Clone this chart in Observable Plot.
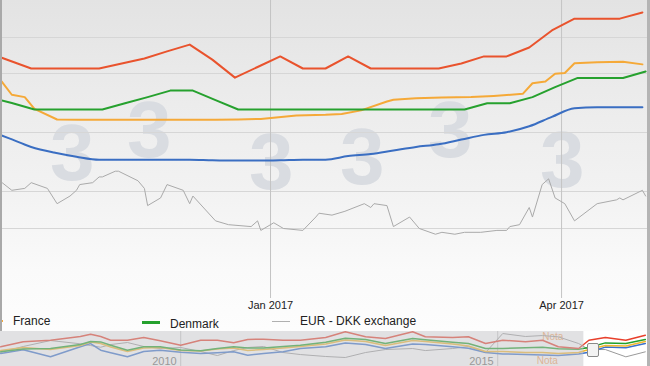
<!DOCTYPE html>
<html>
<head>
<meta charset="utf-8">
<script src="https://cdn.jsdelivr.net/npm/d3@7"></script>
<script src="https://cdn.jsdelivr.net/npm/@observablehq/plot@0.6"></script>
<style>
  html, body { margin: 0; padding: 0; background: #fff; }
  #wrap { position: relative; width: 650px; height: 366px; overflow: hidden; background: #fff;
          font-family: "Liberation Sans", Arial, sans-serif; }
  #bg { position: absolute; left: 0; top: 0; width: 650px; height: 331px;
        background: linear-gradient(to bottom, #e3e3e3 0px, #ebebeb 90px, #f2f2f2 190px, #fafafa 270px, #fdfdfd 331px); }
  .wm { position: absolute; font: bold 80px "Liberation Sans", Arial, sans-serif; line-height: 80px; color: #d9dce1; }
  #main { position: absolute; left: 0; top: 0; }
  #nav { position: absolute; left: 0; top: 331px; }
  .leg { position: absolute; font-size: 12px; line-height: 14px; color: #222; white-space: nowrap; }
  .sym { position: absolute; height: 2px; }
  #lbar { position: absolute; left: 0; top: 0; width: 2px; height: 331px; background: #a9a9a9; }
  #rbar { position: absolute; left: 647px; top: 0; width: 3px; height: 366px; background: #b4b4b4; }
  #handle { position: absolute; left: 587px; top: 343px; width: 10px; height: 12px; border: 1px solid #8a8a8a;
            border-radius: 2px; background: #f3f3f3; }
</style>
</head>
<body>
<div id="wrap">
  <div id="bg"></div>
  <div class="wm" style="left:50px;top:113px">3</div>
  <div class="wm" style="left:127px;top:90px">3</div>
  <div class="wm" style="left:249px;top:122px">3</div>
  <div class="wm" style="left:340px;top:117px">3</div>
  <div class="wm" style="left:428px;top:90px">3</div>
  <div class="wm" style="left:540px;top:120px">3</div>
  <div id="main"></div>
  <div id="nav"></div>
  <div class="sym" style="left:-12px;top:320px;width:15px;background:#f5a938"></div>
  <div class="leg" style="left:13px;top:314px">France</div>
  <div class="sym" style="left:142px;top:321px;width:18px;height:3px;background:#26a12e"></div>
  <div class="leg" style="left:170px;top:317px">Denmark</div>
  <div class="sym" style="left:272px;top:321px;width:18px;height:1px;background:#b0b0b0"></div>
  <div class="leg" style="left:300px;top:314px">EUR - DKK exchange</div>
  <div id="handle"></div>
  <div id="lbar"></div>
  <div id="rbar"></div>
</div>
<script>
// ---------- main chart data (prices in EUR/100 kg, exchange rate EUR-DKK) ----------
const weeksWed = ["2016-10-05","2016-10-12","2016-10-19","2016-10-26","2016-11-02","2016-11-09","2016-11-16","2016-11-23","2016-11-30","2016-12-07","2016-12-14","2016-12-21","2016-12-28","2017-01-04","2017-01-11","2017-01-18","2017-01-25","2017-02-01","2017-02-08","2017-02-15","2017-02-22","2017-03-01","2017-03-08","2017-03-15","2017-03-22","2017-03-29","2017-04-05","2017-04-12","2017-04-19","2017-04-26"];
// series whose legend entries are cut off at the left edge
const seriesRed  = [167.3,164.5,161.7,161.7,161.7,161.7,163.4,165.1,167.5,169.8,164.7,158.6,162.2,165.8,161.7,161.7,165.8,161.7,161.7,161.7,161.7,163.4,165.8,165.8,168.8,174.6,178.6,178.6,178.6,180.7];
const seriesBlue = [141.0,138.1,135.1,133.2,131.8,130.8,130.8,130.8,130.8,130.8,130.6,130.5,130.5,130.6,130.8,130.8,132.0,132.7,133.9,135.1,136.0,137.6,139.2,140.1,142.1,145.3,148.2,148.6,148.6,148.6];

const weeksThu = ["2016-10-06","2016-10-13","2016-10-20","2016-10-27","2016-11-03","2016-11-10","2016-11-17","2016-11-24","2016-12-01","2016-12-08","2016-12-15","2016-12-22","2016-12-29","2017-01-05","2017-01-12","2017-01-19","2017-01-26","2017-02-02","2017-02-09","2017-02-16","2017-02-23","2017-03-02","2017-03-09","2017-03-16","2017-03-23","2017-03-30","2017-04-06","2017-04-13","2017-04-20","2017-04-27"];
const denmark = [152.0,150.0,147.8,147.8,147.8,147.8,149.9,152.0,154.2,154.2,151.0,147.8,147.8,147.8,147.8,147.8,147.8,147.8,147.8,147.8,147.8,147.8,149.9,149.9,152.0,155.4,158.5,158.5,158.5,160.7];

const franceDates = ["2016-10-06","2016-10-10","2016-10-13","2016-10-17","2016-10-20","2016-10-27","2016-11-03","2016-11-10","2016-11-17","2016-11-24","2016-12-01","2016-12-08","2016-12-15","2016-12-22","2016-12-29","2017-01-09","2017-01-18","2017-01-23","2017-01-29","2017-02-06","2017-02-08","2017-02-15","2017-02-23","2017-03-04","2017-03-11","2017-03-20","2017-03-23","2017-03-27","2017-03-30","2017-04-02","2017-04-05","2017-04-12","2017-04-20","2017-04-26"];
const france = [161.5,157.1,152.8,152.0,148.0,144.4,144.3,144.3,144.3,144.3,144.3,144.3,144.3,144.4,144.6,145.8,146.0,146.3,147.5,150.5,151.1,151.6,151.9,152.0,152.4,153.1,156.7,157.3,159.9,160.2,163.5,163.8,164.0,163.1];

const fxDates = ["2016-10-07","2016-10-10","2016-10-13","2016-10-17","2016-10-19","2016-10-24","2016-10-27","2016-10-31","2016-11-02","2016-11-03","2016-11-07","2016-11-09","2016-11-10","2016-11-14","2016-11-15","2016-11-21","2016-11-23","2016-11-24","2016-11-28","2016-11-30","2016-12-05","2016-12-07","2016-12-08","2016-12-15","2016-12-19","2016-12-26","2016-12-28","2016-12-29","2017-01-02","2017-01-05","2017-01-11","2017-01-15","2017-01-16","2017-01-20","2017-01-24","2017-01-30","2017-02-01","2017-02-02","2017-02-06","2017-02-08","2017-02-13","2017-02-16","2017-02-21","2017-02-23","2017-02-27","2017-03-02","2017-03-07","2017-03-12","2017-03-15","2017-03-16","2017-03-19","2017-03-22","2017-03-23","2017-03-26","2017-03-28","2017-03-30","2017-04-02","2017-04-05","2017-04-12","2017-04-18","2017-04-19","2017-04-20","2017-04-26","2017-04-27"];
const eurDkk = [7.4327,7.4324,7.4320,7.4321,7.4324,7.4321,7.4313,7.4317,7.4320,7.4323,7.4324,7.4327,7.4327,7.4330,7.4330,7.4325,7.4321,7.4312,7.4316,7.4323,7.4320,7.4313,7.4317,7.4304,7.4302,7.4301,7.4304,7.4299,7.4303,7.4300,7.4299,7.4306,7.4308,7.4307,7.4309,7.4313,7.4311,7.4313,7.4312,7.4301,7.4306,7.4300,7.4297,7.4298,7.4297,7.4298,7.4298,7.4299,7.4299,7.4301,7.4302,7.4311,7.4306,7.4323,7.4326,7.4316,7.4313,7.4304,7.4313,7.4315,7.4316,7.4315,7.4320,7.4317];

const mainXDomain = ["2016-10-09T12:00:00Z","2017-04-28T12:00:00Z"];
const mainYDomain = [83.73, 184.75];
const xTickDates = ["2017-01-01","2017-04-01"];
const priceGrid = [160, 140, 120];
const rateGrid = [7.430, 7.440];
const rateAxis = [7.430, 7.440];         // secondary axis value range
const rateAxisPrice = [107.46, 172.2];   // where that range sits on the price axis

// ---------- navigator data ----------
const navDates = ["2007-03-01","2007-07-09","2007-12-13","2008-06-02","2008-07-31","2008-09-27","2008-11-24","2009-02-28","2009-06-02","2009-09-05","2010-01-01","2010-04-26","2010-07-31","2010-11-02","2011-01-22","2011-04-23","2011-08-14","2011-11-21","2012-04-15","2012-08-06","2012-12-01","2013-03-25","2013-08-29","2013-11-10","2014-04-16","2014-07-16","2014-10-23","2015-01-30","2015-06-10","2015-09-16","2015-12-16","2016-04-11","2016-06-09","2016-09-12","2017-01-08","2017-04-30"];
const navRed    = [149.3,163.0,167.3,177.4,183.7,177.4,167.3,167.3,174.7,165.7,153.7,167.3,167.3,160.2,169.3,170.1,167.3,167.3,174.7,190.3,176.6,172.0,190.3,176.6,174.7,176.6,158.3,167.3,163.0,167.3,149.3,144.7,167.3,174.7,167.3,181.0];
const navGreen  = [135.6,143.3,144.7,155.6,163.8,162.7,153.7,140.0,149.3,149.3,140.3,138.4,144.7,149.3,146.0,146.3,150.4,153.7,161.6,172.8,169.5,158.3,172.0,168.7,161.9,158.3,144.7,144.7,146.8,147.9,143.8,142.8,147.4,160.0,158.3,169.3];
const navFrance = [139.2,147.4,141.9,152.9,162.4,158.3,148.8,136.5,146.0,147.4,139.2,137.8,143.3,146.0,139.2,141.9,146.0,150.1,157.0,167.9,163.8,152.9,166.5,163.8,157.0,151.5,136.5,136.5,133.7,133.7,131.0,133.7,141.9,152.9,151.5,163.8];
const navBlue   = [131.0,141.4,122.0,149.3,158.3,140.0,133.2,122.0,136.5,140.0,134.3,131.0,132.9,135.6,126.4,131.0,135.6,144.7,149.3,159.4,155.6,144.7,157.0,155.3,149.3,145.5,133.5,129.9,128.3,126.9,125.5,129.6,134.3,148.5,146.6,158.3];
const navRate   = [7.4393,7.4478,7.4566,7.4518,7.4492,7.4467,7.4507,7.4537,7.4478,7.4448,7.4463,7.4404,7.4344,7.4418,7.4463,7.4478,7.4389,7.4359,7.4330,7.4315,7.4389,7.4433,7.4448,7.4418,7.4448,7.4478,7.4389,7.4670,7.4626,7.4640,7.4621,7.4522,7.4433,7.4433,7.4325,7.4399];
const navXDomain = ["2007-02-28","2017-05-30"];
const navYDomain = [95.5, 191.1];
const navRateAxis = [7.43, 7.47];
const navRateAxisPrice = [117.3, 191.1];
const navYears = ["2010-01-01","2015-01-01"];
const navMask = ["2007-02-28","2016-05-11"];
const navNotesTop = [{date: "2015-11-14", label: "Nota"}];
const navNotesBottom = [{date: "2015-10-14", label: "Nota"}];

// ---------- build ----------
const parse = d3.utcParse("%Y-%m-%d");
const rows = (dates, vals) => dates.map((d, i) => ({date: parse(d), value: vals[i]}));
const rateToPrice = d3.scaleLinear(rateAxis, rateAxisPrice);
const navRateToPrice = d3.scaleLinear(navRateAxis, navRateAxisPrice);
const font = "font-family: 'Liberation Sans', Arial, sans-serif;";

const main = Plot.plot({
  width: 650, height: 316,
  marginTop: 0, marginRight: 0, marginBottom: 18, marginLeft: 0,
  style: "background: transparent; " + font + " font-size: 11px; color: #222;",
  x: {type: "utc", domain: mainXDomain.map(d => new Date(d)), ticks: xTickDates.map(parse),
      tickFormat: d3.utcFormat("%b %Y"), tickSize: 0, tickPadding: 3, label: null},
  y: {domain: mainYDomain, axis: null},
  marks: [
    Plot.ruleY(priceGrid, {stroke: "#d6d6d6", strokeOpacity: 1}),
    Plot.ruleY(rateGrid, {y: d => rateToPrice(d), stroke: "#d6d6d6", strokeOpacity: 1}),
    Plot.ruleX(xTickDates.map(parse), {stroke: "#c4c4c4", strokeOpacity: 1}),
    Plot.line(rows(weeksWed, seriesRed), {x: "date", y: "value", stroke: "#e9532d", strokeWidth: 2, clip: true}),
    Plot.line(rows(weeksWed, seriesBlue), {x: "date", y: "value", stroke: "#3a6ec2", strokeWidth: 2, curve: "monotone-x", clip: true}),
    Plot.line(rows(franceDates, france), {x: "date", y: "value", stroke: "#f5a938", strokeWidth: 2, clip: true}),
    Plot.line(rows(weeksThu, denmark), {x: "date", y: "value", stroke: "#26a12e", strokeWidth: 2, clip: true}),
    Plot.line(rows(fxDates, eurDkk), {x: "date", y: d => rateToPrice(d.value), stroke: "#aaaaaa", strokeWidth: 1, clip: true})
  ]
});
document.getElementById("main").append(main);

const nav = Plot.plot({
  width: 650, height: 35, margin: 0,
  style: "background: transparent; " + font + " font-size: 11px;",
  x: {type: "utc", domain: navXDomain.map(parse), axis: null},
  y: {domain: navYDomain, axis: null},
  marks: [
    Plot.ruleX(navYears.map(parse), {stroke: "#c6c6c6", strokeOpacity: 1}),
    Plot.text(navNotesTop, {x: d => parse(d.date), text: "label", frameAnchor: "top", lineAnchor: "top", dy: 1, fill: "#f4a565", fontSize: 10}),
    Plot.text(navNotesBottom, {x: d => parse(d.date), text: "label", frameAnchor: "bottom", lineAnchor: "bottom", dy: -3, fill: "#f4a565", fontSize: 10}),
    Plot.line(rows(navDates, navRate), {x: "date", y: d => navRateToPrice(d.value), stroke: "#9a9a9a", strokeWidth: 1, clip: true}),
    Plot.line(rows(navDates, navBlue), {x: "date", y: "value", stroke: "#3b72cc", strokeWidth: 1.5, clip: true}),
    Plot.line(rows(navDates, navFrance), {x: "date", y: "value", stroke: "#f2b630", strokeWidth: 1.5, clip: true}),
    Plot.line(rows(navDates, navGreen), {x: "date", y: "value", stroke: "#22a02a", strokeWidth: 1.5, clip: true}),
    Plot.line(rows(navDates, navRed), {x: "date", y: "value", stroke: "#e8402c", strokeWidth: 1.5, clip: true}),
    Plot.rect([navMask], {x1: d => parse(d[0]), x2: d => parse(d[1]), fill: "#c4c4c8", fillOpacity: 0.5}),
    Plot.text(navYears, {x: d => parse(d), text: d => d.slice(0, 4), frameAnchor: "bottom", lineAnchor: "bottom",
                         textAnchor: "end", dx: -4, dy: -2, fill: "#999999"})
  ]
});
document.getElementById("nav").append(nav);
</script>
</body>
</html>
